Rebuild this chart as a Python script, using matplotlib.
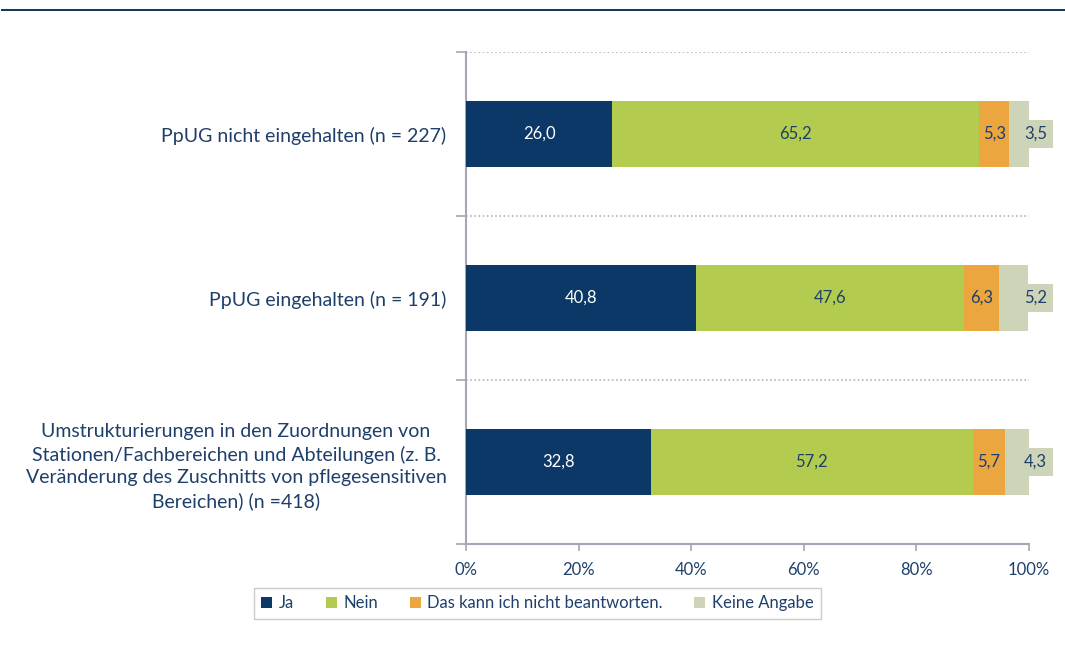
import matplotlib
matplotlib.use("Agg")
import matplotlib.pyplot as plt
from matplotlib.lines import Line2D
import numpy as np

categories = [
    "PpUG nicht eingehalten (n = 227)",
    "PpUG eingehalten (n = 191)",
    "Umstrukturierungen in den Zuordnungen von\nStationen/Fachbereichen und Abteilungen (z. B.\nVeränderung des Zuschnitts von pflegesensitiven\nBereichen) (n =418)",
]
series_names = ["Ja", "Nein", "Das kann ich nicht beantworten.", "Keine Angabe"]
ja = [26.0, 40.8, 32.8]
nein = [65.2, 47.6, 57.2]
weiss_nicht = [5.3, 6.3, 5.7]
keine_angabe = [3.5, 5.2, 4.3]
x_ticks = [0, 20, 40, 60, 80, 100]
x_tick_labels = ["0%", "20%", "40%", "60%", "80%", "100%"]

colors = ["#0b3866", "#b3cc4f", "#eba63f", "#cdd4b7"]
text_navy = "#1f3f6b"
axis_gray = "#a3a7b4"

plt.rcParams['font.family'] = ['Lato', 'DejaVu Sans']

fig = plt.figure(figsize=(10.65, 6.48), dpi=100)
ax = fig.add_axes([466/1065, 1-544/648, (1029-466)/1065, (544-52)/648])

# top rule
fig.add_artist(Line2D([2/1065, 1.0], [1-9.5/648, 1-9.5/648], transform=fig.transFigure,
                      color="#0d3557", lw=1.4))

y = np.arange(len(categories))
data = [ja, nein, weiss_nicht, keine_angabe]
left = np.zeros(len(categories))
for i, (vals, c, name) in enumerate(zip(data, colors, series_names)):
    vals = np.array(vals)
    ax.barh(y, vals, left=left, height=0.4, color=c, label=name, zorder=3)
    for yi, v, l in zip(y, vals, left):
        lab = f"{v:.1f}".replace(".", ",")
        if i == 0:
            ax.text(l + v/2, yi, lab, ha="center", va="center", color="white", fontsize=12, zorder=4)
        elif i == 3:
            ax.text(101.2, yi, lab, ha="center", va="center", color=text_navy, fontsize=12, zorder=4,
                    bbox=dict(boxstyle="square,pad=0.35", fc=c, ec="none"))
        else:
            ax.text(l + v/2, yi, lab, ha="center", va="center", color=text_navy, fontsize=12, zorder=4)
    left = left + vals

ax.set_xlim(0, 100)
ax.set_ylim(len(categories) - 0.5, -0.5)
ax.set_xticks(x_ticks)
ax.set_xticklabels(x_tick_labels, color=text_navy, fontsize=12)
ax.set_yticks(y)
ax.set_yticklabels(categories, color=text_navy, fontsize=14, multialignment="center",
                   linespacing=1.38)
ax.tick_params(axis="y", length=0, pad=14)
ax.tick_params(axis="x", length=5, color=axis_gray, width=1.2, pad=8)
ax.set_yticks([-0.5, 0.5, 1.5, 2.5], minor=True)
ax.tick_params(axis="y", which="minor", length=7, color=axis_gray, width=1.2)
for b in [-0.5, 0.5, 1.5]:
    ax.axhline(b, color="#b4b4b4", lw=1.2, ls=(0, (1, 1.5)), zorder=1)

for s in ["top", "right"]:
    ax.spines[s].set_visible(False)
for s in ["left", "bottom"]:
    ax.spines[s].set_color(axis_gray)
    ax.spines[s].set_linewidth(1.5)

leg = fig.legend(loc="center", bbox_to_anchor=((252+823)/2/1065, 1-603/648), ncol=4,
                 frameon=True, fancybox=False, fontsize=12, handlelength=0.65, handleheight=0.65,
                 handletextpad=0.4, columnspacing=1.9, borderpad=0.45, borderaxespad=0)
leg.get_frame().set_edgecolor("#bfbfbf")
leg.get_frame().set_linewidth(1.0)
for t in leg.get_texts():
    t.set_color(text_navy)

fig.savefig("out.png", dpi=100)
